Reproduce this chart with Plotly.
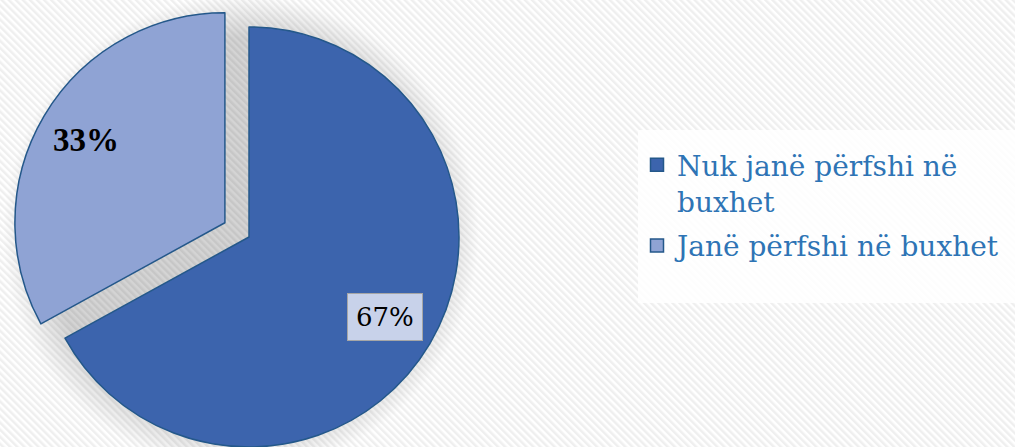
import base64
import numpy as np
import plotly.graph_objects as go

# ---- data ----
labels = ["Nuk janë përfshi në buxhet", "Janë përfshi në buxhet"]
legend_names = ["Nuk janë përfshi në<br>buxhet", "Janë përfshi në buxhet"]
values = [67, 33]
colors = ["#3c64ad", "#8fa3d4"]
outline = "#24588a"

W, H = 1015, 447
R = 210            # pie radius in px
CX, CY = 249, 237  # centre of the main slice (px from top-left)
PULL_PX = 28       # explode distance of the 2nd slice

fracs = np.array(values) / np.sum(values)
starts = np.concatenate([[0], np.cumsum(fracs)[:-1]]) * 360  # clockwise from 12 o'clock
mids = starts + fracs * 180
std_angles = np.deg2rad(90 - mids)  # standard math angle

def domain_for(cx, cy):
    return dict(x=[(cx - R) / W, (cx + R) / W], y=[1 - (cy + R) / H, 1 - (cy - R) / H])

# background: diagonal stripes + soft shadow
svg = f"""<svg xmlns='http://www.w3.org/2000/svg' width='{W}' height='{H}'>
<defs>
<pattern id='p' width='5' height='5' patternUnits='userSpaceOnUse' patternTransform='rotate(-45)'>
<rect width='5' height='5' fill='#ffffff'/><rect width='2.5' height='5' fill='#efefef'/></pattern>
<radialGradient id='s' cx='0.5' cy='0.5' r='0.5'>
<stop offset='0.82' stop-color='#000' stop-opacity='0.17'/>
<stop offset='1' stop-color='#000' stop-opacity='0'/></radialGradient>
</defs>
<rect width='100%' height='100%' fill='url(#p)'/>
<circle cx='{CX-8}' cy='{CY-4}' r='{R+28}' fill='url(#s)'/>
</svg>"""
bg_src = "data:image/svg+xml;base64," + base64.b64encode(svg.encode()).decode()

fig = go.Figure()

centers = []
for i in range(len(values)):
    pull = PULL_PX if i == 1 else 0
    cx = CX + pull * np.cos(std_angles[i])
    cy = CY - pull * np.sin(std_angles[i])
    centers.append((cx, cy))
    cols = ["rgba(0,0,0,0)"] * len(values)
    cols[i] = colors[i]
    lw = [0] * len(values)
    lw[i] = 1.5
    fig.add_trace(go.Pie(
        labels=labels, values=values, sort=False, direction="clockwise", rotation=0,
        marker=dict(colors=cols, line=dict(color=outline, width=lw)),
        textinfo="none", hoverinfo="skip", showlegend=False,
        domain=domain_for(cx, cy),
    ))

# legend entries
for i, (name, c) in enumerate(zip(legend_names, colors)):
    fig.add_trace(go.Scatter(
        x=[None], y=[None], mode="markers", name=name, legendgroup=f"g{i}",
        marker=dict(symbol="square", size=13, color=c, line=dict(color=outline, width=1.5)),
    ))

# data labels
label_styles = [
    dict(font=dict(family="DejaVu Serif", size=26, color="#000"), bgcolor="#c8d2ea",
         bordercolor="#a6a6a6", borderwidth=1, borderpad=8),
    dict(font=dict(family="Liberation Serif", size=33, color="#000"), bgcolor="rgba(0,0,0,0)"),
]
label_radius = [0.75, 0.77]
for i in range(len(values)):
    cx, cy = centers[i]
    lx = cx + label_radius[i] * R * np.cos(std_angles[i])
    ly = cy - label_radius[i] * R * np.sin(std_angles[i])
    txt = f"{round(fracs[i]*100)}%"
    if i == 1:
        txt = f"<b>{txt}</b>"
    fig.add_annotation(x=lx / W, y=1 - ly / H, xref="paper", yref="paper", text=txt,
                       xanchor="center", yanchor="middle",
                       showarrow=False, **label_styles[i])

fig.add_layout_image(source=bg_src, xref="paper", yref="paper", x=0, y=1, sizex=1, sizey=1,
                     sizing="stretch", layer="below", xanchor="left", yanchor="top")

fig.add_shape(type="rect", xref="paper", yref="paper", x0=638 / W, x1=1.0, y0=1 - 303 / H, y1=1 - 130 / H,
              fillcolor="rgba(255,255,255,0.85)", line=dict(width=0), layer="below")

fig.update_layout(
    width=W, height=H, margin=dict(l=0, r=0, t=0, b=0),
    paper_bgcolor="#ffffff", plot_bgcolor="rgba(0,0,0,0)",
    xaxis=dict(visible=False), yaxis=dict(visible=False),
    showlegend=True,
    legend=dict(x=637 / W, y=1 - 140 / H, xanchor="left", yanchor="top", valign="top",
                bgcolor="rgba(0,0,0,0)", font=dict(family="DejaVu Serif", size=28, color="#2e74b5"),
                itemwidth=30, tracegroupgap=5),
)

fig.write_html("out.html", config={"displayModeBar": False},
               post_script="document.body.style.margin='0';")
